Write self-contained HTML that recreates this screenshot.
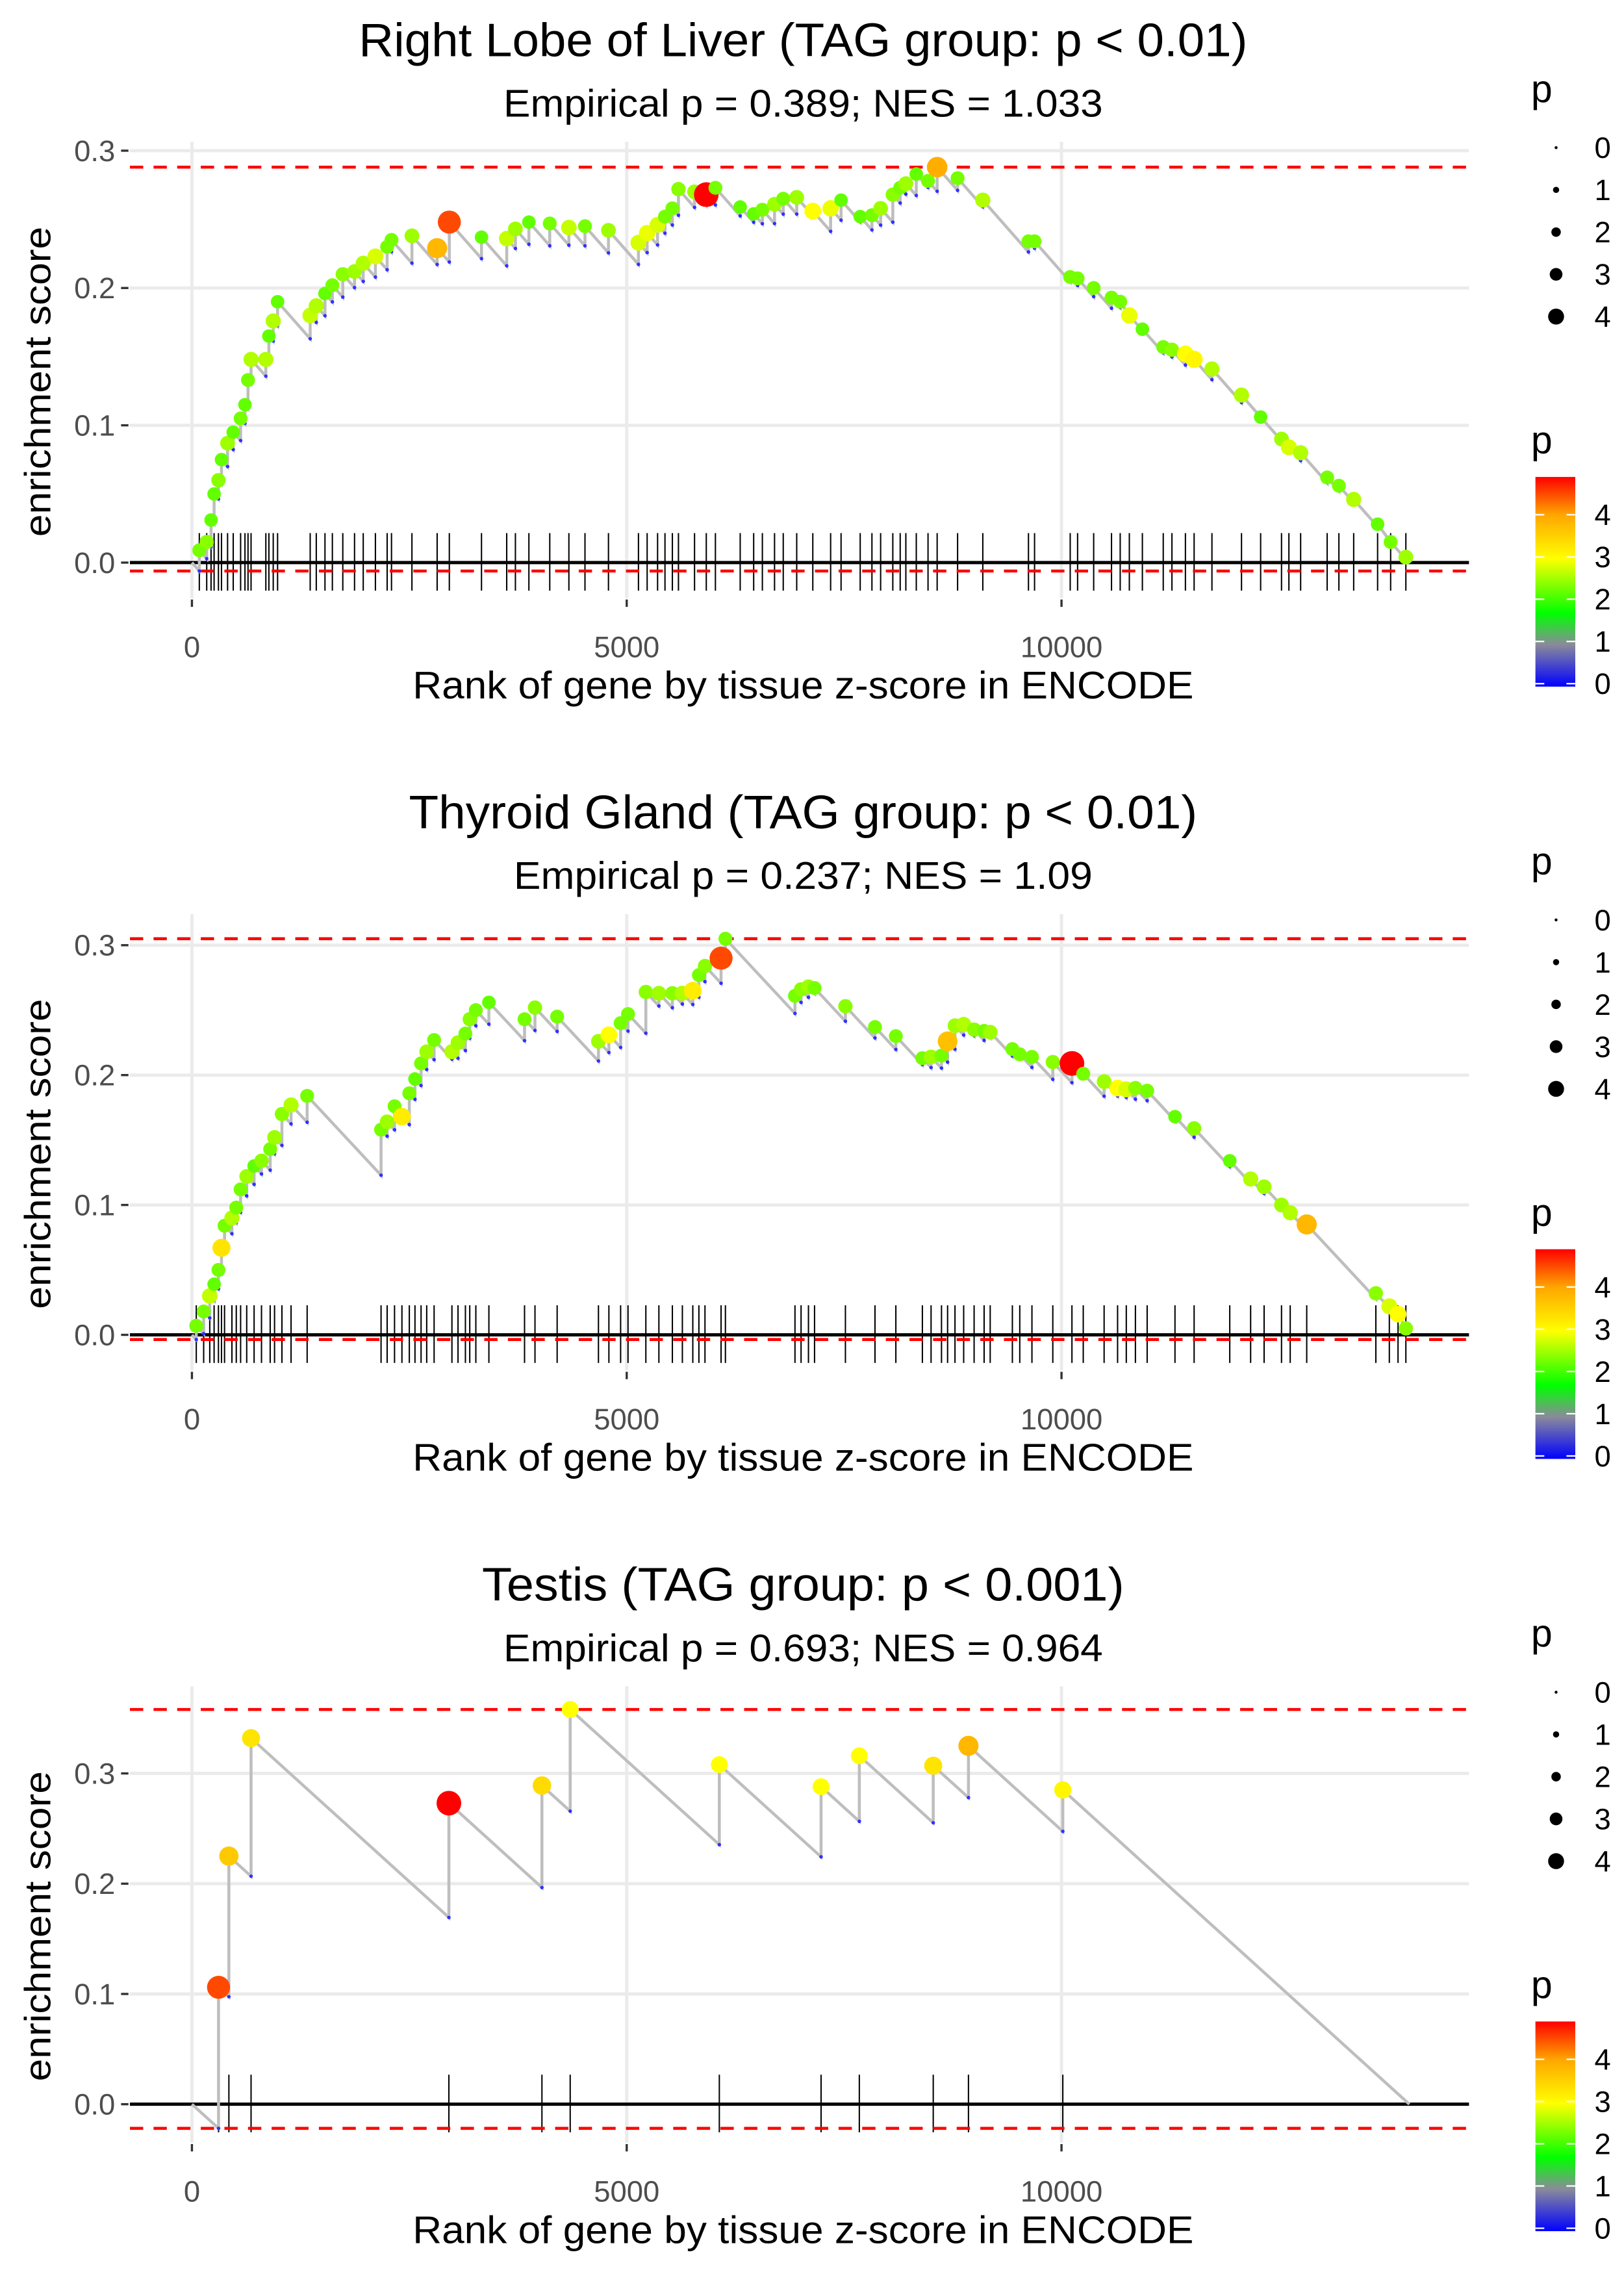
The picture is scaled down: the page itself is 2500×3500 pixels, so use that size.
<!DOCTYPE html>
<html><head><meta charset="utf-8">
<style>
html,body{margin:0;padding:0;background:#fff;}
svg{display:block;font-family:"Liberation Sans",sans-serif;}
</style></head>
<body>
<svg id="chart" width="2500" height="3500" viewBox="0 0 1100 1540" xmlns="http://www.w3.org/2000/svg">
<defs>
<linearGradient id="pgrad" x1="0" y1="1" x2="0" y2="0">
<stop offset="0" stop-color="#0000ff"/>
<stop offset="0.2" stop-color="#8a8a9a"/>
<stop offset="0.35" stop-color="#00ff00"/>
<stop offset="0.61" stop-color="#ffff00"/>
<stop offset="0.82" stop-color="#ffa500"/>
<stop offset="1" stop-color="#ff0000"/>
</linearGradient>
</defs>
</svg>
<script>
const N = 14000;
const ranks1=[85,170,220,255,305,340,410,475,560,610,645,680,850,885,935,985,1360,1430,1530,1615,1735,1870,1970,2110,2245,2295,2530,2820,2960,3330,3620,3720,3875,4115,4335,4520,4790,5135,5235,5355,5440,5525,5595,5780,5915,6020,6305,6460,6560,6700,6800,6955,7140,7345,7465,7685,7820,7920,8060,8145,8210,8330,8465,8570,8805,9095,9620,9690,10100,10185,10370,10575,10675,10780,10930,11170,11270,11425,11525,11730,12070,12290,12530,12615,12750,13055,13190,13360,13635,13785,13960];
const es1=[.009,.015,.031,.050,.060,.075,.087,.095,.105,.115,.133,.148,.148,.165,.176,.190,.180,.187,.196,.202,.210,.212,.218,.223,.230,.235,.238,.229,.248,.237,.236,.243,.248,.247,.244,.245,.242,.233,.240,.246,.252,.258,.272,.270,.268,.273,.259,.254,.257,.261,.265,.266,.256,.258,.264,.252,.253,.258,.268,.273,.276,.283,.278,.288,.280,.264,.234,.234,.208,.207,.200,.193,.190,.180,.170,.157,.155,.152,.148,.141,.122,.106,.090,.084,.080,.062,.056,.046,.028,.015,.004];
const pv1=[2.3,2.4,2.2,2.2,2.4,2.2,2.5,2.2,2.3,2.2,2.3,2.6,2.6,2.2,2.6,2.2,2.7,2.6,2.2,2.3,2.4,2.5,2.6,2.8,2.3,2.3,2.5,3.8,4.5,2.2,2.7,2.5,2.2,2.3,2.7,2.3,2.5,2.8,2.9,2.8,2.3,2.3,2.4,2.5,4.9,2.3,2.2,2.2,2.3,2.5,2.3,2.5,3.0,2.9,2.2,2.2,2.3,2.5,2.4,2.3,2.5,2.2,2.3,3.9,2.3,2.6,2.3,2.3,2.3,2.3,2.3,2.3,2.3,2.9,2.2,2.3,2.4,3.0,3.1,2.6,2.6,2.2,2.5,2.8,2.6,2.3,2.3,2.6,2.2,2.3,2.5];

const ranks2=[50,135,205,255,305,340,375,460,510,560,630,715,800,900,950,1035,1140,1325,2175,2245,2330,2415,2500,2565,2635,2700,2785,2990,3060,3145,3195,3265,3415,3825,3945,4200,4675,4795,4930,5015,5220,5370,5525,5640,5760,5830,5900,6085,6135,6935,7005,7090,7160,7515,7855,8095,8400,8500,8620,8690,8775,8875,8995,9110,9180,9435,9520,9660,9900,10120,10250,10490,10645,10745,10850,10985,11305,11525,11935,12175,12330,12530,12630,12820,13615,13770,13870,13960];
const es2=[.007,.018,.030,.039,.050,.067,.084,.090,.098,.112,.122,.130,.134,.143,.152,.170,.177,.184,.158,.164,.176,.168,.186,.197,.209,.218,.227,.218,.225,.232,.243,.250,.256,.243,.252,.245,.226,.231,.240,.247,.264,.263,.263,.263,.265,.277,.284,.290,.305,.261,.266,.268,.267,.253,.237,.230,.213,.214,.215,.226,.238,.239,.235,.234,.233,.220,.216,.214,.210,.209,.201,.195,.190,.189,.190,.188,.168,.159,.134,.120,.114,.100,.094,.085,.032,.022,.016,.005];
const pv2=[2.3,2.3,2.7,2.2,2.3,3.3,2.3,2.6,2.3,2.3,2.5,2.2,2.4,2.3,2.5,2.4,2.6,2.3,2.3,2.5,2.3,3.2,2.3,2.2,2.3,2.5,2.3,2.6,2.5,2.3,2.4,2.3,2.2,2.3,2.4,2.3,2.5,3.0,2.3,2.3,2.4,2.5,2.4,2.6,3.2,2.3,2.4,4.5,2.3,2.3,2.4,2.5,2.3,2.4,2.3,2.3,2.3,2.5,2.3,3.7,2.5,2.6,2.4,2.3,2.5,2.3,2.3,2.3,2.4,4.9,2.3,2.5,3.0,2.8,2.4,2.3,2.2,2.4,2.2,2.6,2.5,2.5,2.6,3.8,2.4,2.8,3.0,2.4];

const ranks3=[306,425,680,2955,4025,4350,6065,7235,7675,8525,8930,10015];
const es3=[.106,.225,.332,.273,.289,.358,.308,.288,.316,.307,.325,.285];
const pv3=[4.5,3.6,3.3,4.9,3.4,3.0,3.0,3.0,3.0,3.3,3.8,3.1];

const titles=["Right Lobe of Liver (TAG group: p < 0.01)","Thyroid Gland (TAG group: p < 0.01)","Testis (TAG group: p < 0.001)"];
const titleLens=[602,534,435];
const subtitles=["Empirical p = 0.389; NES = 1.033","Empirical p = 0.237; NES = 1.09","Empirical p = 0.693; NES = 0.964"];
const subLens=[406,392,406];
const yTicks=[0,0.1,0.2,0.3];
const yTickLabels=["0.0","0.1","0.2","0.3"];
const xTicks=[0,5000,10000];
const xTickLabels=["0","5000","10000"];
const yDomains=[[-0.0258,0.3065],[-0.0273,0.324],[-0.0348,0.379]];
const sizeLegendValues=[0,1,2,3,4];
const colorLegendValues=[0,1,2,3,4];

const NS="http://www.w3.org/2000/svg";
const svg=document.getElementById('chart');
function mk(tag,attrs,parent){const e=document.createElementNS(NS,tag);for(const k in attrs)e.setAttribute(k,attrs[k]);(parent||svg).appendChild(e);return e;}

const stops=[[0,[0,0,255]],[0.98,[138,138,154]],[1.7,[0,255,0]],[3.0,[255,255,0]],[4.0,[255,165,0]],[4.9,[255,0,0]]];
function pColor(p){
  if(p<=stops[0][0])return 'rgb(0,0,255)';
  for(let i=1;i<stops.length;i++){
    if(p<=stops[i][0]){const a=stops[i-1],b=stops[i];const t=(p-a[0])/(b[0]-a[0]);
      const c=a[1].map((v,j)=>Math.round(v+(b[1][j]-v)*t));return 'rgb('+c.join(',')+')';}
  }
  return 'rgb(255,0,0)';
}
function pRadius(p){return 1.5+1.4*p;}

const PX0=88,PX1=995;
function xScale(r){return 130+r*(294.5/5000);}

function drawPanel(idx,ranks,es,pv){
  const off=idx*523;
  const top=96+off,bot=405+off;
  const dom=yDomains[idx];
  const yS=v=>bot-(v-dom[0])/(dom[1]-dom[0])*(bot-top);
  const g=mk('g',{});
  
  
  const t=mk('text',{x:544,y:38+off,'text-anchor':'middle','font-size':32,fill:'#000',textLength:titleLens[idx],lengthAdjust:'spacingAndGlyphs'},g);
  t.textContent=titles[idx];
  
  
  const st=mk('text',{x:544,y:79+off,'text-anchor':'middle','font-size':26,fill:'#000',textLength:subLens[idx],lengthAdjust:'spacingAndGlyphs'},g);
  st.textContent=subtitles[idx];
  
  
  xTicks.forEach((v,i)=>{
    const gl=mk('line',{x1:xScale(v),x2:xScale(v),y1:top,y2:bot,stroke:'#ebebeb','stroke-width':2.2},g);
    
    
    const tk=mk('line',{x1:xScale(v),x2:xScale(v),y1:bot+1,y2:bot+6,stroke:'#333','stroke-width':1.5},g);
    
    
    const tl=mk('text',{x:xScale(v),y:bot+40,'text-anchor':'middle','font-size':20,fill:'#4d4d4d'},g);
    tl.textContent=xTickLabels[i];
    
    
  });
  yTicks.forEach((v,i)=>{
    const gl=mk('line',{x1:PX0,x2:PX1,y1:yS(v),y2:yS(v),stroke:'#ebebeb','stroke-width':2.2},g);
    
    
    const tk=mk('line',{x1:82,x2:87,y1:yS(v),y2:yS(v),stroke:'#333','stroke-width':1.5},g);
    
    
    const tl=mk('text',{x:78,y:yS(v)+7,'text-anchor':'end','font-size':20,fill:'#4d4d4d'},g);
    tl.textContent=yTickLabels[i];
    
    
  });
  const xt=mk('text',{x:544,y:bot+68,'text-anchor':'middle','font-size':26,fill:'#000',textLength:529,lengthAdjust:'spacingAndGlyphs'},g);
  xt.textContent='Rank of gene by tissue z-score in ENCODE';
  
  
  const cy=(top+bot)/2+8;
  const yt=mk('text',{x:0,y:0,'text-anchor':'middle','font-size':25,fill:'#000',textLength:210,lengthAdjust:'spacingAndGlyphs',transform:'translate(34,'+cy+') rotate(-90)'},g);
  yt.textContent='enrichment score';
  
  
  const slope=1/(N-ranks.length);
  let prevR=0,prevE=0;const pts=[[0,0]];const troughs=[];
  for(let i=0;i<ranks.length;i++){
    let tr=prevE-slope*(ranks[i]-prevR);
    if(tr>es[i])tr=es[i];
    troughs.push(tr);
    pts.push([ranks[i],tr]);pts.push([ranks[i],es[i]]);
    prevR=ranks[i];prevE=es[i];
  }
  pts.push([N,0]);
  const maxE=Math.max(...es),minE=Math.min(0,...troughs);
  const zl=mk('line',{x1:PX0,x2:PX1,y1:yS(0),y2:yS(0),stroke:'#000','stroke-width':2.2},g);
  
  
  ranks.forEach(r=>{
    const rl=mk('line',{x1:xScale(r),x2:xScale(r),y1:yS(0)-20,y2:yS(0)+19,stroke:'#000','stroke-width':0.9},g);
    
    
  });
  [maxE,minE].forEach((v,i)=>{
    const dl=mk('line',{x1:PX0,x2:PX1,y1:yS(v),y2:yS(v),stroke:'#ff0000','stroke-width':2,'stroke-dasharray':'9,7'},g);
    
    
  });
  const path=mk('polyline',{points:pts.map(p=>xScale(p[0]).toFixed(2)+','+yS(p[1]).toFixed(2)).join(' '),fill:'none',stroke:'#bebebe','stroke-width':2},g);
  
  
  ranks.forEach((r,i)=>{
    const d=mk('circle',{cx:xScale(r),cy:yS(troughs[i]),r:1.2,fill:'#3030ff'},g);
    
    
  });
  ranks.forEach((r,i)=>{
    const c=mk('circle',{cx:xScale(r),cy:yS(es[i]),r:pRadius(pv[i]),fill:pColor(pv[i])},g);
    
    
  });
  const lt=mk('text',{x:1037,y:69+off,'font-size':26,fill:'#000'},g);
  lt.textContent='p';
  
  
  sizeLegendValues.forEach((v,i)=>{
    const yy=100+28.6*i+off;
    const c=mk('circle',{cx:1054,cy:yy,r:1+1.1*v,fill:'#000'},g);
    
    
    const tl=mk('text',{x:1080,y:yy+7,'font-size':20,fill:'#000'},g);
    tl.textContent=String(v);
    
    
  });
  const ct=mk('text',{x:1037,y:307+off,'font-size':26,fill:'#000'},g);
  ct.textContent='p';
  
  
  const bar=mk('rect',{x:1040,y:323+off,width:27,height:142,fill:'url(#pgrad)'},g);
  
  
  colorLegendValues.forEach(v=>{
    const yy=463+off-28.6*v;
    [1040,1061].forEach(x0=>{
      const tk=mk('line',{x1:x0,x2:x0+6,y1:yy,y2:yy,stroke:'#fff','stroke-width':1},g);
      
      
    });
    const tl=mk('text',{x:1080,y:yy+7,'font-size':20,fill:'#000'},g);
    tl.textContent=String(v);
    
    
  });
}
drawPanel(0,ranks1,es1,pv1);
drawPanel(1,ranks2,es2,pv2);
drawPanel(2,ranks3,es3,pv3);
</script>
</body></html>
